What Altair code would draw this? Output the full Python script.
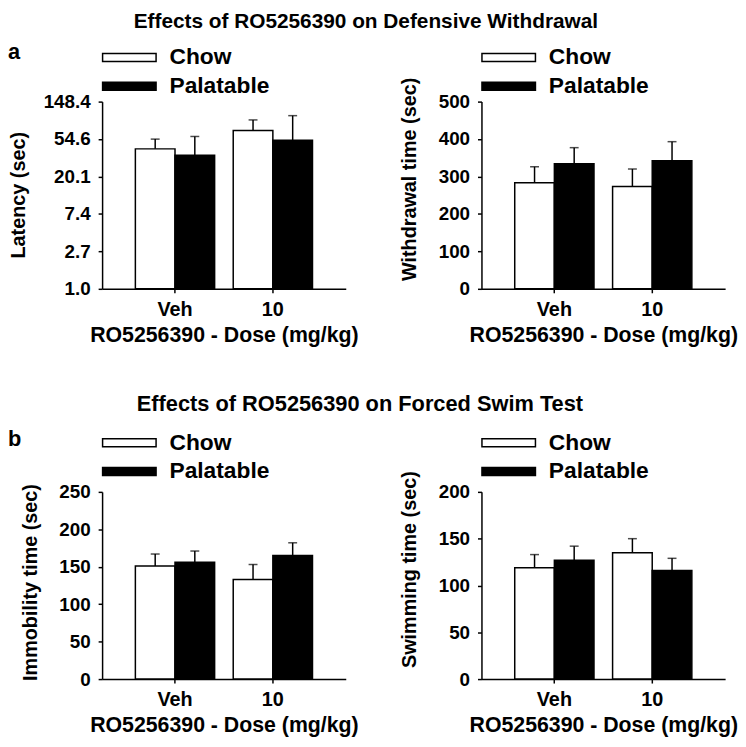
import altair as alt
import pandas as pd

FONT = "Liberation Sans"

doses = ["Veh", "10"]
groups = ["Chow", "Palatable"]

# order: Chow-Veh, Palatable-Veh, Chow-10, Palatable-10
latency_mean = [42.0, 35.5, 68.5, 53.0]
latency_err = [12.5, 23.0, 22.5, 49.0]
withdrawal_mean = [283, 334, 273, 342]
withdrawal_err = [43, 43, 47, 51]
immobility_mean = [151, 156, 133, 165]
immobility_err = [16, 15, 20, 17]
swimming_mean = [119, 127, 135, 116]
swimming_err = [14, 15, 15, 13]

latency_ticks = [1.0, 2.71828, 7.38906, 20.0855, 54.5982, 148.4132]
withdrawal_ticks = [0, 100, 200, 300, 400, 500]
immobility_ticks = [0, 50, 100, 150, 200, 250]
swimming_ticks = [0, 50, 100, 150, 200]

title_top = "Effects of RO5256390 on Defensive Withdrawal"
title_bottom = "Effects of RO5256390 on Forced Swim Test"
x_title = "RO5256390 - Dose (mg/kg)"

SYMBOL = "M-3,-0.45L3,-0.45L3,0.45L-3,0.45Z"
W, H = 246, 189


def make_df(means, errs):
    rows = []
    i = 0
    for d in doses:
        for g in groups:
            rows.append({"dose": d, "group": g, "mean": means[i], "upper": means[i] + errs[i]})
            i += 1
    return pd.DataFrame(rows)


def panel(means, errs, ytitle, ticks, log, legend_y, title_x, title_y, letter=None, letter_offset=0):
    df = make_df(means, errs)
    if log:
        yscale = alt.Scale(type="log", base=2.718281828459045, domain=[ticks[0], ticks[-1]], nice=False)
        fmt = ".1f"
    else:
        yscale = alt.Scale(domain=[ticks[0], ticks[-1]], nice=False, zero=True)
        fmt = "d"
    x = alt.X("dose:N", sort=doses,
              scale=alt.Scale(paddingInner=0.19, paddingOuter=0.34),
              axis=alt.Axis(title=x_title, labelAngle=0, tickSize=4, labelPadding=7, titlePadding=5))
    xo = alt.XOffset("group:N", sort=groups, scale=alt.Scale(paddingInner=0, paddingOuter=0))
    yaxis = alt.Axis(title=ytitle, values=ticks, format=fmt, tickSize=4, labelPadding=8,
                     labelOverlap=False,
                     titleX=title_x, titleY=title_y, titleAngle=270, titleBaseline="bottom",
                     titleAlign="center")
    base = alt.Chart(df)
    bars = base.mark_bar(stroke="black", strokeWidth=1.5).encode(
        x=x, xOffset=xo,
        y=alt.Y("mean:Q", scale=yscale, axis=yaxis, stack=None),
        fill=alt.Fill("group:N", sort=groups,
                      scale=alt.Scale(domain=groups, range=["white", "black"]),
                      legend=alt.Legend(orient="none", legendX=0, legendY=legend_y, title=None,
                                        symbolType=SYMBOL, symbolSize=324, symbolOffset=16,
                                        labelOffset=29, labelFont=FONT, labelFontSize=23,
                                        labelFontWeight="bold", labelColor="black",
                                        rowPadding=5, symbolStrokeColor="black",
                                        symbolStrokeWidth=1.5, padding=0)),
    )
    rules = base.mark_rule(color="black", strokeWidth=1.5).encode(
        x=x, xOffset=xo, y=alt.Y("mean:Q", axis=yaxis), y2="upper:Q")
    caps = base.mark_tick(color="black", thickness=1.5, size=9, orient="horizontal").encode(
        x=x, xOffset=xo, y=alt.Y("upper:Q", axis=yaxis))
    ch = alt.layer(bars, rules, caps).properties(width=W, height=H)
    if letter:
        ch = ch.properties(title=alt.TitleParams(letter, anchor="start", frame="group", dx=-95,
                                                 offset=letter_offset, fontSize=22, font=FONT,
                                                 fontWeight="bold", color="black"))
    return ch


tl = panel(latency_mean, latency_err, "Latency (sec)", latency_ticks, True, -56, -74, 94, "a", -18)
tr = panel(withdrawal_mean, withdrawal_err, "Withdrawal time (sec)", withdrawal_ticks, False, -56, -63, 78)
bl = panel(immobility_mean, immobility_err, "Immobility time (sec)", immobility_ticks, False, -61, -62, 91, "b", -20)
br = panel(swimming_mean, swimming_err, "Swimming time (sec)", swimming_ticks, False, -61, -63, 78)

row1 = alt.hconcat(tl, tr, spacing=137, bounds="flush",
                   title=alt.TitleParams(title_top, fontSize=21, anchor="middle", offset=9, dx=-7)
                   ).resolve_scale(fill="independent").resolve_legend(fill="independent")
row2 = alt.hconcat(bl, br, spacing=137, bounds="flush",
                   title=alt.TitleParams(title_bottom, fontSize=22, anchor="middle", offset=13, dx=-13)
                   ).resolve_scale(fill="independent").resolve_legend(fill="independent")

chart = alt.vconcat(row1, row2, spacing=394, bounds="flush").resolve_scale(
    fill="independent").resolve_legend(fill="independent").properties(
    padding={"left": 0, "top": 0, "right": 0, "bottom": 0}
).configure(font=FONT).configure_view(stroke=None).configure_axis(
    domainColor="black", domainWidth=1.5, tickColor="black", tickWidth=1.5,
    labelColor="black", titleColor="black", labelFont=FONT, titleFont=FONT,
    labelFontWeight="bold", titleFontWeight="bold", grid=False
).configure_axisX(labelFontSize=20, titleFontSize=21.5).configure_axisY(
    labelFontSize=19, titleFontSize=20
).configure_title(font=FONT, fontWeight="bold", color="black")

chart.save("out.html", embed_options={"renderer": "svg", "actions": False})
